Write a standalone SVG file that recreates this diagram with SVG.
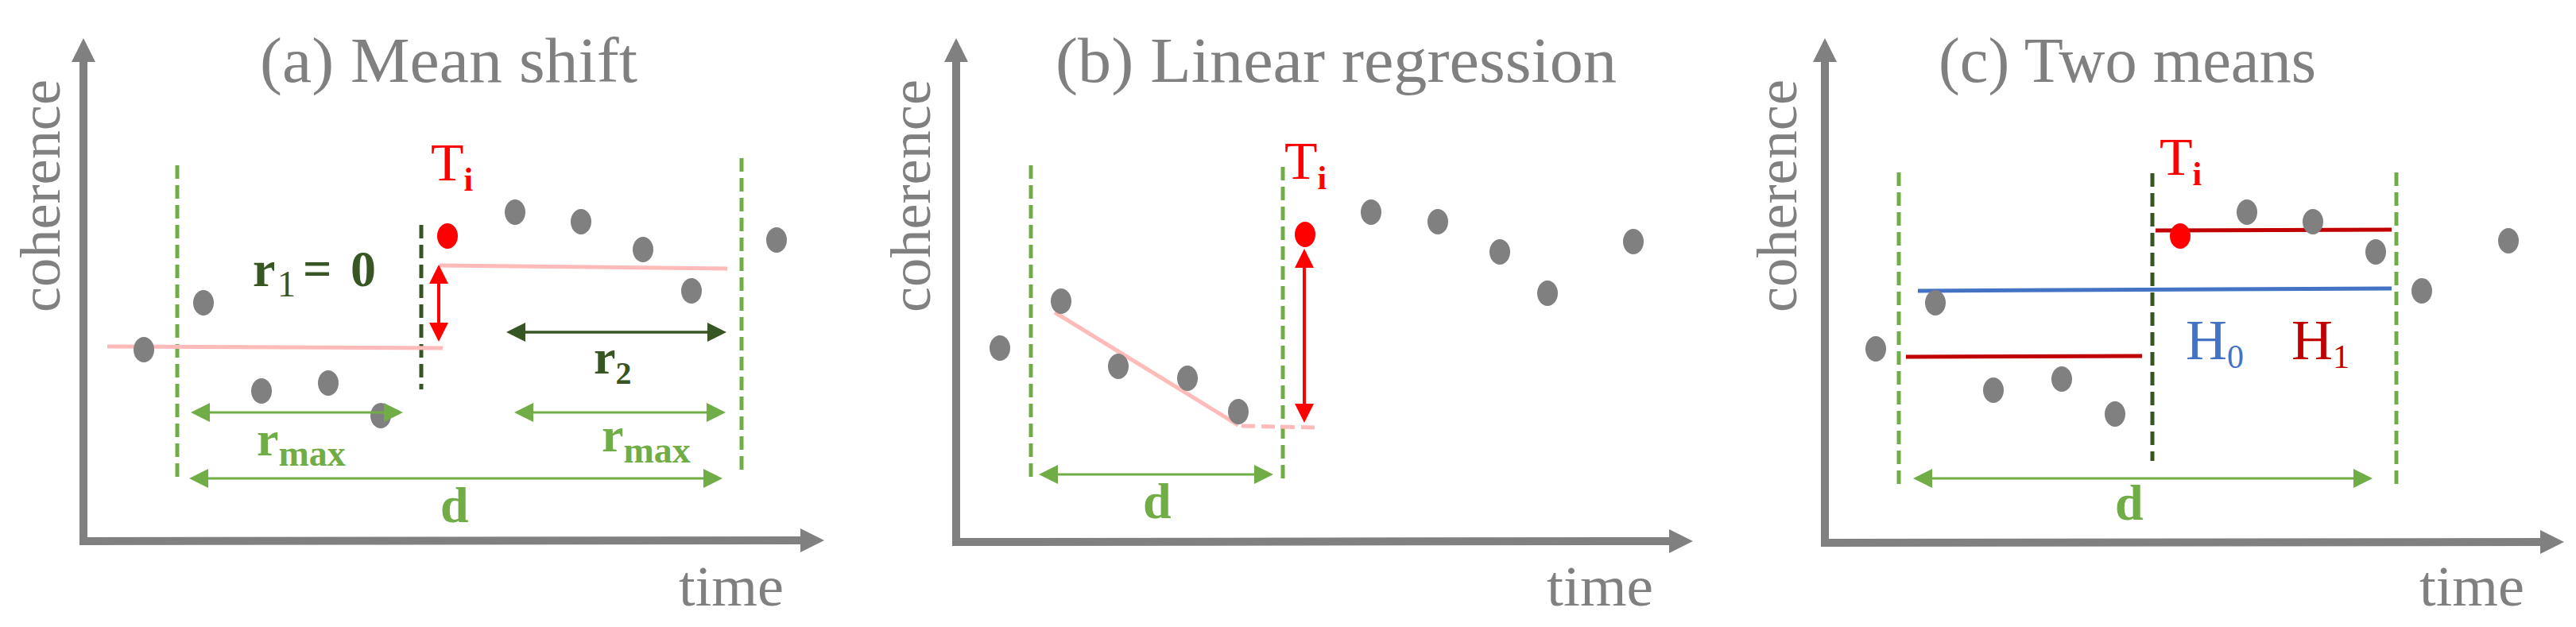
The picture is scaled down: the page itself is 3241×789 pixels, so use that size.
<svg xmlns="http://www.w3.org/2000/svg" width="3241" height="789" viewBox="0 0 3241 789">
<defs>
<style>
.ax{stroke:#808080;stroke-width:10;fill:none}
.t{font-family:"Liberation Serif","Times New Roman",serif}
.gray{fill:#808080}
.title{font-size:80px}
.ylab{font-size:72px}
.xlab{font-size:72px}
.dot{fill:#808080}
.rdot{fill:#ff0000}
.gdash{stroke:#70ad47;stroke-width:5;stroke-dasharray:17 8;fill:none}
.ddash{stroke:#375623;stroke-width:5;stroke-dasharray:17 8;fill:none}
.pink{stroke:#ffbaba;stroke-width:5;fill:none}
.pinkd{stroke:#ffbaba;stroke-width:5;stroke-dasharray:17 8;fill:none}
.garr{stroke:#70ad47;stroke-width:3;fill:none}
.darr{stroke:#375623;stroke-width:3.5;fill:none}
.rarr{stroke:#ff0000;stroke-width:4;fill:none}
.green{fill:#70ad47}
.dgreen{fill:#375623}
.red{fill:#ff0000}
.b{font-weight:bold}
</style>
<marker id="mAx" markerUnits="userSpaceOnUse" markerWidth="30" markerHeight="30" refX="15" refY="15" orient="auto"><path d="M0,0L30,15L0,30z" fill="#808080"/></marker>
<marker id="mG" markerUnits="userSpaceOnUse" markerWidth="24" markerHeight="24" refX="16" refY="12" orient="auto-start-reverse"><path d="M0,0L24,12L0,24z" fill="#70ad47"/></marker>
<marker id="mD" markerUnits="userSpaceOnUse" markerWidth="24" markerHeight="24" refX="16" refY="12" orient="auto-start-reverse"><path d="M0,0L24,12L0,24z" fill="#375623"/></marker>
<marker id="mR" markerUnits="userSpaceOnUse" markerWidth="24" markerHeight="24" refX="16" refY="12" orient="auto-start-reverse"><path d="M0,0L24,12L0,24z" fill="#ff0000"/></marker>
</defs>
<rect width="3241" height="789" fill="#ffffff"/>

<!-- Panel (a) -->
<g id="panel-a">
  <g id="a-axes">
    <line class="ax" x1="105" y1="686" x2="105" y2="63" marker-end="url(#mAx)"/>
    <line class="ax" x1="100" y1="681" x2="1022" y2="680" marker-end="url(#mAx)"/>
  </g>
  <text id="a-title" class="t gray title" x="327" y="103" textLength="475" lengthAdjust="spacingAndGlyphs">(a) Mean shift</text>
  <text id="a-ylab" class="t gray ylab" transform="translate(75,393) rotate(-90)" textLength="293" lengthAdjust="spacingAndGlyphs">coherence</text>
  <text id="a-xlab" class="t gray xlab" x="854" y="762" textLength="132" lengthAdjust="spacingAndGlyphs">time</text>
  <g id="a-guides">
    <line class="gdash" x1="223" y1="208" x2="223" y2="605"/>
    <line class="gdash" x1="933" y1="199" x2="933" y2="599"/>
    <line class="ddash" x1="530" y1="283" x2="530" y2="490"/>
    <line class="pink" x1="135" y1="436" x2="557" y2="438"/>
    <line class="pink" x1="553" y1="334" x2="915" y2="338"/>
  </g>
  <g id="a-points">
    <ellipse class="dot" cx="181" cy="440" rx="13" ry="16"/>
    <ellipse class="dot" cx="256" cy="381" rx="13" ry="16"/>
    <ellipse class="dot" cx="329" cy="492" rx="13" ry="16"/>
    <ellipse class="dot" cx="413" cy="482" rx="13" ry="16"/>
    <ellipse class="dot" cx="479" cy="523" rx="13" ry="16"/>
    <ellipse class="rdot" cx="563" cy="297" rx="13" ry="16"/>
    <ellipse class="dot" cx="648" cy="267" rx="13" ry="16"/>
    <ellipse class="dot" cx="731" cy="279" rx="13" ry="16"/>
    <ellipse class="dot" cx="809" cy="314" rx="13" ry="16"/>
    <ellipse class="dot" cx="870" cy="366" rx="13" ry="16"/>
    <ellipse class="dot" cx="977" cy="302" rx="13" ry="16"/>
  </g>
  <g id="a-connectors">
    <line class="rarr" x1="552" y1="341" x2="552" y2="422" marker-start="url(#mR)" marker-end="url(#mR)"/>
    <line class="darr" x1="645" y1="418" x2="906" y2="418" marker-start="url(#mD)" marker-end="url(#mD)"/>
    <line class="garr" x1="248" y1="519" x2="499" y2="519" marker-start="url(#mG)" marker-end="url(#mG)"/>
    <line class="garr" x1="655" y1="519" x2="905" y2="519" marker-start="url(#mG)" marker-end="url(#mG)"/>
    <line class="garr" x1="246" y1="602" x2="901" y2="602" marker-start="url(#mG)" marker-end="url(#mG)"/>
  </g>
  <g id="a-labels">
    <text class="t red" x="542" y="227" font-size="68">T<tspan class="b" font-size="42" dy="13">i</tspan></text>
    <text class="t dgreen b" y="360"><tspan x="318" font-size="64">r</tspan><tspan x="349" y="373" font-size="46" font-weight="normal">1</tspan><tspan x="381" y="360" font-size="64">=</tspan><tspan x="441" font-size="64">0</tspan></text>
    <text class="t dgreen b" x="747" y="470" font-size="62">r<tspan font-size="40" dy="13">2</tspan></text>
    <text class="t green b" x="323" y="573" font-size="62">r<tspan font-size="46" dy="13">max</tspan></text>
    <text class="t green b" x="757" y="568" font-size="62">r<tspan font-size="46" dy="14">max</tspan></text>
    <text class="t green b" x="554" y="657" font-size="64">d</text>
  </g>
</g>

<!-- Panel (b) -->
<g id="panel-b">
  <g id="b-axes">
    <line class="ax" x1="1203" y1="687" x2="1203" y2="63" marker-end="url(#mAx)"/>
    <line class="ax" x1="1198" y1="682" x2="2115" y2="681" marker-end="url(#mAx)"/>
  </g>
  <text id="b-title" class="t gray title" x="1328" y="103" textLength="706" lengthAdjust="spacingAndGlyphs">(b) Linear regression</text>
  <text id="b-ylab" class="t gray ylab" transform="translate(1170,393) rotate(-90)" textLength="293" lengthAdjust="spacingAndGlyphs">coherence</text>
  <text id="b-xlab" class="t gray xlab" x="1946" y="762" textLength="134" lengthAdjust="spacingAndGlyphs">time</text>
  <g id="b-guides">
    <line class="gdash" x1="1297" y1="208" x2="1297" y2="605"/>
    <line class="gdash" x1="1614" y1="210" x2="1614" y2="605"/>
    <line class="pink" x1="1327" y1="393" x2="1558" y2="535"/>
    <line class="pinkd" x1="1562" y1="536" x2="1655" y2="538"/>
  </g>
  <g id="b-points">
    <ellipse class="dot" cx="1258" cy="438" rx="13" ry="16"/>
    <ellipse class="dot" cx="1335" cy="379" rx="13" ry="16"/>
    <ellipse class="dot" cx="1407" cy="461" rx="13" ry="16"/>
    <ellipse class="dot" cx="1494" cy="476" rx="13" ry="16"/>
    <ellipse class="dot" cx="1558" cy="518" rx="13" ry="16"/>
    <ellipse class="rdot" cx="1642" cy="295" rx="13" ry="16"/>
    <ellipse class="dot" cx="1725" cy="267" rx="13" ry="16"/>
    <ellipse class="dot" cx="1809" cy="279" rx="13" ry="16"/>
    <ellipse class="dot" cx="1887" cy="317" rx="13" ry="16"/>
    <ellipse class="dot" cx="1947" cy="369" rx="13" ry="16"/>
    <ellipse class="dot" cx="2055" cy="304" rx="13" ry="16"/>
  </g>
  <g id="b-connectors">
    <line class="rarr" x1="1641" y1="321" x2="1641" y2="524" marker-start="url(#mR)" marker-end="url(#mR)"/>
    <line class="garr" x1="1315" y1="597" x2="1594" y2="597" marker-start="url(#mG)" marker-end="url(#mG)"/>
  </g>
  <g id="b-labels">
    <text class="t red" x="1616" y="225" font-size="68">T<tspan class="b" font-size="42" dy="13">i</tspan></text>
    <text class="t green b" x="1438" y="652" font-size="64">d</text>
  </g>
</g>

<!-- Panel (c) -->
<g id="panel-c">
  <g id="c-axes">
    <line class="ax" x1="2296" y1="688" x2="2296" y2="63" marker-end="url(#mAx)"/>
    <line class="ax" x1="2291" y1="683" x2="3211" y2="682" marker-end="url(#mAx)"/>
  </g>
  <text id="c-title" class="t gray title" x="2439" y="103" textLength="475" lengthAdjust="spacingAndGlyphs">(c) Two means</text>
  <text id="c-ylab" class="t gray ylab" transform="translate(2260,393) rotate(-90)" textLength="293" lengthAdjust="spacingAndGlyphs">coherence</text>
  <text id="c-xlab" class="t gray xlab" x="3044" y="762" textLength="132" lengthAdjust="spacingAndGlyphs">time</text>
  <g id="c-guides">
    <line class="gdash" x1="2389" y1="217" x2="2389" y2="611"/>
    <line class="gdash" x1="3015" y1="217" x2="3015" y2="616"/>
    <line class="ddash" x1="2708" y1="218" x2="2708" y2="580"/>
    <line stroke="#4472c4" stroke-width="5" x1="2413" y1="366" x2="3009" y2="363"/>
    <line stroke="#c00000" stroke-width="5" x1="2398" y1="449" x2="2695" y2="448"/>
    <line stroke="#c00000" stroke-width="5" x1="2712" y1="290" x2="3009" y2="289"/>
  </g>
  <g id="c-points">
    <ellipse class="dot" cx="2360" cy="439" rx="13" ry="16"/>
    <ellipse class="dot" cx="2435" cy="381" rx="13" ry="16"/>
    <ellipse class="dot" cx="2508" cy="491" rx="13" ry="16"/>
    <ellipse class="dot" cx="2594" cy="477" rx="13" ry="16"/>
    <ellipse class="dot" cx="2661" cy="521" rx="13" ry="16"/>
    <ellipse class="rdot" cx="2743" cy="297" rx="13" ry="16"/>
    <ellipse class="dot" cx="2827" cy="267" rx="13" ry="16"/>
    <ellipse class="dot" cx="2910" cy="279" rx="13" ry="16"/>
    <ellipse class="dot" cx="2989" cy="317" rx="13" ry="16"/>
    <ellipse class="dot" cx="3047" cy="366" rx="13" ry="16"/>
    <ellipse class="dot" cx="3156" cy="303" rx="13" ry="16"/>
  </g>
  <g id="c-connectors">
    <line class="garr" x1="2415" y1="602" x2="2977" y2="602" marker-start="url(#mG)" marker-end="url(#mG)"/>
  </g>
  <g id="c-labels">
    <text class="t red" x="2717" y="220" font-size="68">T<tspan class="b" font-size="42" dy="13">i</tspan></text>
    <text class="t" x="2750" y="452" font-size="72" fill="#4472c4">H<tspan font-size="42" dy="11">0</tspan></text>
    <text class="t" x="2883" y="452" font-size="72" fill="#c00000">H<tspan font-size="42" dy="11">1</tspan></text>
    <text class="t green b" x="2661" y="654" font-size="64">d</text>
  </g>
</g>
</svg>
